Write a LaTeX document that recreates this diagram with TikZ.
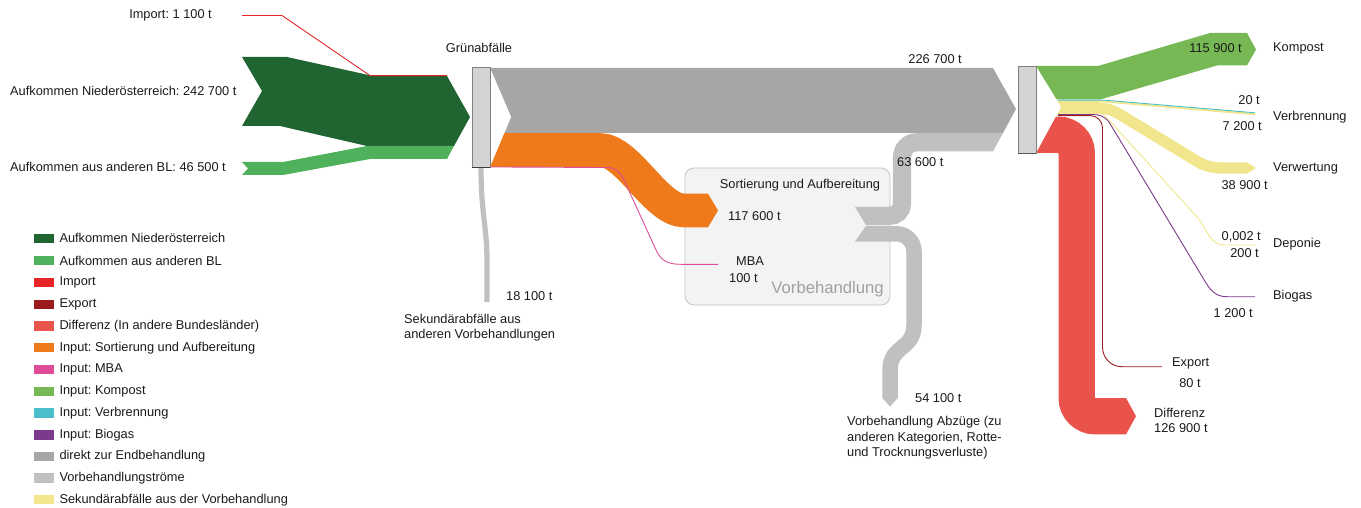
\documentclass[tikz,border=0pt]{standalone}
\usepackage{fontspec}
\setmainfont{Liberation Sans}
\usepackage{tikz}
\usetikzlibrary{calc}
\definecolor{NoeGreen}{HTML}{1F6431}
\definecolor{BlGreen}{HTML}{4FB15B}
\definecolor{ImportRed}{HTML}{E52528}
\definecolor{ExportRed}{HTML}{9B1B1E}
\definecolor{DiffRed}{HTML}{EA524C}
\definecolor{SortOrange}{HTML}{EE7A1B}
\definecolor{MbaPink}{HTML}{DE4C98}
\definecolor{KompostGreen}{HTML}{76B853}
\definecolor{VerbrCyan}{HTML}{4BBFCB}
\definecolor{BiogasPurple}{HTML}{7B3A8B}
\definecolor{DirektGray}{HTML}{A6A6A6}
\definecolor{VorbGray}{HTML}{C0C0C0}
\definecolor{SekYellow}{HTML}{F1E68E}
\definecolor{NodeFill}{HTML}{D3D3D3}
\definecolor{NodeLine}{HTML}{808080}
\definecolor{NodeBottom}{HTML}{3C3C3C}
\definecolor{BoxFill}{HTML}{F3F3F3}
\definecolor{BoxLine}{HTML}{C4C4C4}
\definecolor{VorbText}{HTML}{A0A0A0}
\definecolor{LabelBlack}{HTML}{1A1A1A}

\begin{document}
\frenchspacing
\begin{tikzpicture}[x=1pt,y=-1pt,
    lbl/.style={inner sep=0pt,font=\fontsize{12.8}{15.3}\selectfont,text=LabelBlack},
    nodebox/.style={draw=NodeLine,fill=NodeFill,line width=0.9pt,minimum width=18pt,inner sep=0pt},
    thinflow/.style={line width=0.9pt},
    swatch/.style={minimum width=19.5pt,minimum height=9.5pt,inner sep=0pt}]
    \useasboundingbox (0,0) rectangle (1361,508);

    % Vorbehandlung
    \draw[BoxLine,fill=BoxFill,rounded corners=9pt,line width=0.8pt] (685,168) rectangle (890,305);

    % Aufkommen
    \fill[NoeGreen] (242,57) -- (287,57) -- (373,76) -- (447,76) -- (470,117) -- (454,146)
        -- (367,146) -- (280,126) -- (242,126) -- (262,91) -- cycle;
    \fill[BlGreen] (242,162) -- (283,162) -- (367,146) -- (454,146) -- (447,159) -- (370,159)
        -- (283,175) -- (242,175) -- (248,168.5) -- cycle;
    \coordinate (impS) at (242,15.5);
    \coordinate (impE) at (447,75.6);
    \draw[ImportRed,thinflow] (impS) -- (282,15.5) -- (370,75.6) -- (impE);

    % Gruenabfaelle -> Endbehandlung / Vorbehandlung
    \fill[DirektGray] (490,68) -- (993,68) -- (1016,109) -- (1003,133) -- (504.3,133) -- (511,117) -- cycle;
    \draw[SortOrange,line width=33.6pt] (490,150) -- (600,150) .. controls (628,150) and (656,210.5) .. (684,210.5) -- (708,210.5);
    \fill[SortOrange] (708,193.7) -- (718,210.5) -- (708,227.3) -- cycle;
    \draw[VorbGray,line width=5.2pt] (481,167) .. controls (481,215) and (487,225) .. (487,262) -- (487,302);
    \fill[white] (490,68) -- (511,117) -- (490,167) -- cycle;
    \node[nodebox,minimum height=100pt] (gruen) at (481,117) {};
    \draw[NodeBottom,line width=1pt] (gruen.south west) -- (gruen.south east);
    \coordinate (mbaE) at (718,264.3);
    \draw[MbaPink,thinflow] (gruen.south east) ++(0,-0.5) -- (606,167.5) .. controls (616,167.5) and (620,172) .. (624,180)
        -- (657,252) .. controls (662,261) and (668,264.3) .. (681,264.3) -- (mbaE);

    % Vorbehandlungsstroeme
    \draw[VorbGray,line width=18.2pt] (866,216) -- (889,216) .. controls (896,216) and (902,211) .. (902,204)
        -- (902,158) .. controls (902,149) and (908,142.3) .. (917,142.3) -- (993,142.3);
    \fill[VorbGray] (855,206.9) -- (866,206.9) -- (866,225.1) -- cycle;
    \fill[VorbGray] (993,133) -- (1003,133) -- (993,151.4) -- cycle;
    \draw[VorbGray,line width=15.5pt] (866,233.8) -- (896.7,233.8) .. controls (906,233.8) and (914,241.5) .. (914,251)
        -- (914,325) .. controls (914,350) and (890,345) .. (890,370) -- (890,398);
    \fill[VorbGray] (866,226) -- (866,241.5) -- (855,241.5) -- cycle;
    \fill[VorbGray] (882.25,398) -- (890,406.5) -- (897.75,398) -- cycle;

    % Endbehandlung
    \fill[KompostGreen] (1036,66) -- (1098,66) -- (1210,33) -- (1247,33) -- (1256,49.5) -- (1247,65.5)
        -- (1217,65.5) -- (1100,99.5) -- (1036,99.5) -- cycle;
    \fill[SekYellow] (1036,100.2) rectangle (1100,113.6);
    \draw[SekYellow,line width=11.2pt] (1090,108.4) -- (1100,108.4) .. controls (1108,108.4) and (1112,110) .. (1120,114.5)
        -- (1190,157) .. controls (1200,163.5) and (1208,168) .. (1222,168) -- (1247,168);
    \fill[SekYellow] (1247,162.4) -- (1256,168) -- (1247,173.6) -- cycle;
    \draw[SekYellow,line width=2pt] (1095,101.5) -- (1105,101.5) -- (1255,114.2);
    \draw[DiffRed,line width=36.4pt] (1036,134.8) -- (1058.5,134.8) .. controls (1068.5,134.8) and (1076.7,143) .. (1076.7,153)
        -- (1076.7,398) .. controls (1076.7,408) and (1085,416.2) .. (1095,416.2) -- (1126,416.2);
    \fill[DiffRed] (1126,398) -- (1136,416.2) -- (1126,434.4) -- cycle;
    \fill[white] (1036,66) -- (1061,107) -- (1036,153) -- cycle;
    \node[nodebox,minimum height=87pt] (endb) at (1027,109.5) {};
    \draw[NodeLine!70!black,line width=1pt] (endb.south west) -- (endb.south east);
    \coordinate (verbrE) at (1255,112.8);
    \coordinate (depE) at (1255,245);
    \coordinate (bioE) at (1255,296.7);
    \coordinate (expE) at (1162,366.7);
    \draw[VerbrCyan,thinflow] (1058,100.2) -- (1105,100.2) -- (verbrE);
    \draw[SekYellow,thinflow] (1095,113.2) .. controls (1102,113.2) .. (1107,118) -- (1198,218)
        .. controls (1207,229) and (1210,245) .. (1224,245) -- (depE);
    \draw[BiogasPurple,thinflow] (1058,114.6) -- (1092,114.6) .. controls (1100,114.6) and (1104,116) .. (1109,122)
        -- (1203,278) .. controls (1210,290) and (1215,296.7) .. (1227,296.7) -- (bioE);
    \draw[ExportRed,thinflow] (1058,115.6) -- (1090,115.6) .. controls (1097,115.6) and (1102.5,121) .. (1102.5,128)
        -- (1102.5,347) .. controls (1102.5,358) and (1111,366.7) .. (1122,366.7) -- (expE);

    % Beschriftung
    \node[lbl,anchor=east] (imp) at (212,15) {Import: 1 100 t};
    \node[lbl,anchor=west] (noe) at (10,91) {Aufkommen Niederösterreich: 242 700 t};
    \node[lbl,anchor=west] (bl) at (10,167) {Aufkommen aus anderen BL: 46 500 t};
    \node[lbl] (gruenlbl) at (479,48) {Grünabfälle};
    \node[lbl,anchor=east] (direkt) at (962,59) {226 700 t};
    \node[lbl] (sort) at (800,185) {Sortierung und Aufbereitung};
    \node[lbl,anchor=west] (sortval) at (728,216) {117 600 t};
    \node[lbl,anchor=west] (mba) at (736,261) {MBA};
    \node[lbl,anchor=west] (mbaval) at (729,278) {100 t};
    \node[lbl,anchor=east,font=\fontsize{16.7}{20}\selectfont,text=VorbText] (vorb) at (884,289) {Vorbehandlung};
    \node[lbl,anchor=west] (vorbval) at (897,162) {63 600 t};
    \node[lbl,anchor=west] (sekval) at (506,296) {18 100 t};
    \node[lbl,anchor=west,align=left] (sek) at (404,327.6) {Sekundärabfälle aus\\anderen Vorbehandlungen};
    \node[lbl,anchor=west] (abzval) at (915,398) {54 100 t};
    \node[lbl,anchor=west,align=left] (abz) at (847,437.7) {Vorbehandlung Abzüge (zu\\anderen Kategorien, Rotte-\\und Trocknungsverluste)};
    \node[lbl,anchor=east] (kompval) at (1242,48) {115 900 t};
    \node[lbl,anchor=west] (komp) at (1273,48) {Kompost};
    \node[lbl,anchor=east] (verbrval) at (1260,100) {20 t};
    \node[lbl,anchor=west] (verbr) at (1273,117) {Verbrennung};
    \node[lbl,anchor=east] (verbrval2) at (1262,126) {7 200 t};
    \node[lbl,anchor=west] (verw) at (1273,168) {Verwertung};
    \node[lbl,anchor=east] (verwval) at (1268,185) {38 900 t};
    \node[lbl,anchor=east] (depval) at (1261,237) {0,002 t};
    \node[lbl,anchor=west] (dep) at (1273,244) {Deponie};
    \node[lbl,anchor=east] (depval2) at (1259,253) {200 t};
    \node[lbl,anchor=west] (bio) at (1273,296) {Biogas};
    \node[lbl,anchor=east] (bioval) at (1253,313) {1 200 t};
    \node[lbl,anchor=west] (exp) at (1172,363) {Export};
    \node[lbl] (expval) at (1190,383) {80 t};
    \node[lbl,anchor=west] (diff) at (1154,413) {Differenz};
    \node[lbl,anchor=west] (diffval) at (1154,428) {126 900 t};

    % Legende
    \node[swatch,fill=NoeGreen] (sw1) at (44,238.3) {};
    \node[lbl,anchor=west] (lg1) at (59.3,238.3) {Aufkommen Niederösterreich};
    \node[swatch,fill=BlGreen] (sw2) at (44,260.5) {};
    \node[lbl,anchor=west] (lg2) at (59.3,260.5) {Aufkommen aus anderen BL};
    \node[swatch,fill=ImportRed] (sw3) at (44,282.5) {};
    \node[lbl,anchor=west] (lg3) at (59.3,282.5) {Import};
    \node[swatch,fill=ExportRed] (sw4) at (44,304.3) {};
    \node[lbl,anchor=west] (lg4) at (59.3,304.3) {Export};
    \node[swatch,fill=DiffRed] (sw5) at (44,326) {};
    \node[lbl,anchor=west] (lg5) at (59.3,326) {Differenz (In andere Bundesländer)};
    \node[swatch,fill=SortOrange] (sw6) at (44,347.7) {};
    \node[lbl,anchor=west] (lg6) at (59.3,347.7) {Input: Sortierung und Aufbereitung};
    \node[swatch,fill=MbaPink] (sw7) at (44,369.4) {};
    \node[lbl,anchor=west] (lg7) at (59.3,369.4) {Input: MBA};
    \node[swatch,fill=KompostGreen] (sw8) at (44,391.3) {};
    \node[lbl,anchor=west] (lg8) at (59.3,391.3) {Input: Kompost};
    \node[swatch,fill=VerbrCyan] (sw9) at (44,413) {};
    \node[lbl,anchor=west] (lg9) at (59.3,413) {Input: Verbrennung};
    \node[swatch,fill=BiogasPurple] (sw10) at (44,434.8) {};
    \node[lbl,anchor=west] (lg10) at (59.3,434.8) {Input: Biogas};
    \node[swatch,fill=DirektGray] (sw11) at (44,456.6) {};
    \node[lbl,anchor=west] (lg11) at (59.3,456.6) {direkt zur Endbehandlung};
    \node[swatch,fill=VorbGray] (sw12) at (44,478.1) {};
    \node[lbl,anchor=west] (lg12) at (59.3,478.1) {Vorbehandlungströme};
    \node[swatch,fill=SekYellow] (sw13) at (44,499.7) {};
    \node[lbl,anchor=west] (lg13) at (59.3,499.7) {Sekundärabfälle aus der Vorbehandlung};
\end{tikzpicture}
\end{document}
